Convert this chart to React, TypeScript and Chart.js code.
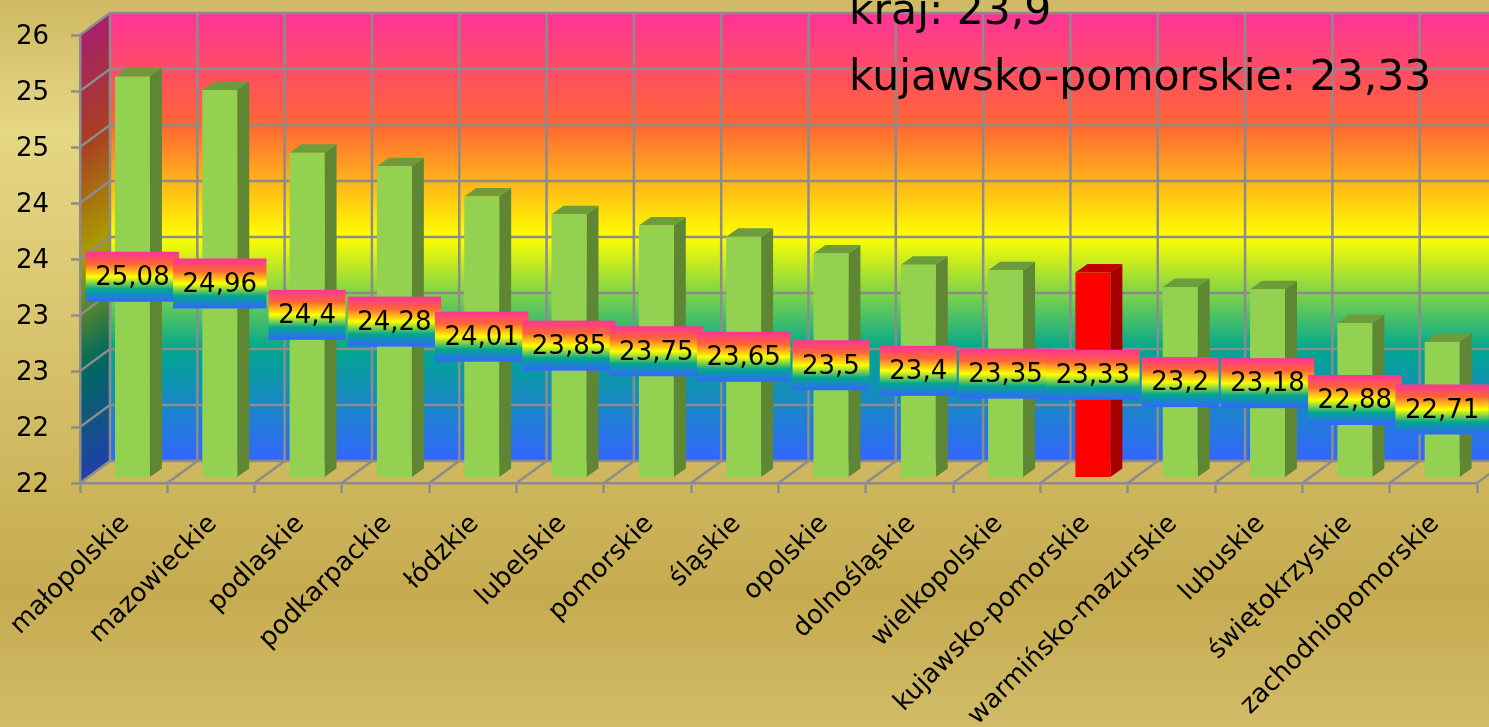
import React, { useEffect, useRef } from "react";
import { Chart, registerables } from "chart.js";

Chart.register(...registerables);

const categories = ["małopolskie", "mazowieckie", "podlaskie", "podkarpackie", "łódzkie", "lubelskie", "pomorskie", "śląskie", "opolskie", "dolnośląskie", "wielkopolskie", "kujawsko-pomorskie", "warmińsko-mazurskie", "lubuskie", "świętokrzyskie", "zachodniopomorskie"];
const values = [25.08, 24.96, 24.4, 24.28, 24.01, 23.85, 23.75, 23.65, 23.5, 23.4, 23.35, 23.33, 23.2, 23.18, 22.88, 22.71];
const yTickLabels = ["22", "22", "23", "23", "24", "24", "25", "25", "26"];
const noteLines = ["kraj: 23,9", "kujawsko-pomorskie: 23,33"];
const highlighted = "kujawsko-pomorskie";
const yMin = 21.5;
const yMax = 25.5;

const FONT = '"DejaVu Sans", sans-serif';
const GRID = "#8c8c8c";
const rainbow: [number, string][] = [[0, "#ff3399"], [0.25, "#ff6633"], [0.5, "#ffff00"], [0.75, "#01a78f"], [1, "#3366ff"]];
const rainbowDark: [number, string][] = [[0, "#a8206a"], [0.25, "#a83f22"], [0.5, "#a89e00"], [0.75, "#016a5c"], [1, "#2040a8"]];

const WALL_DX = 30, WALL_DY = -22;
const BAR_DX = 8.8, BAR_DY = -5.5;
const SIDE_DX = 12, SIDE_DY = -8.5;

function stops(g: CanvasGradient, list: [number, string][]) {
  list.forEach(([o, c]) => g.addColorStop(o, c));
  return g;
}

function quad(ctx: CanvasRenderingContext2D, p: number[], fill: string | CanvasGradient) {
  ctx.beginPath();
  ctx.moveTo(p[0], p[1]);
  ctx.lineTo(p[2], p[3]);
  ctx.lineTo(p[4], p[5]);
  ctx.lineTo(p[6], p[7]);
  ctx.closePath();
  ctx.fillStyle = fill;
  ctx.fill();
}

function noPadding(s: any) {
  s.paddingLeft = s.paddingRight = s.paddingTop = s.paddingBottom = 0;
}

const scene = {
  id: "scene",
  beforeDraw(chart: any) {
    const { ctx, width, height, chartArea: a, scales } = chart;
    const { x, y } = scales;
    ctx.save();
    const bg = ctx.createLinearGradient(0, 0, 0, height);
    stops(bg, [[0, "#cfb964"], [0.18, "#e6d785"], [0.82, "#c6ab50"], [1, "#d2bc68"]]);
    ctx.fillStyle = bg;
    ctx.fillRect(0, 0, width, height);

    // back wall
    const bx = a.left + WALL_DX, bt = a.top + WALL_DY, bb = a.bottom + WALL_DY;
    ctx.fillStyle = stops(ctx.createLinearGradient(0, bt, 0, bb), rainbow);
    ctx.fillRect(bx, bt, a.right + WALL_DX - bx, bb - bt);

    // side wall: colour bands follow the receding edges
    const h = a.bottom - a.top;
    const len = Math.hypot(WALL_DX, WALL_DY);
    const nx = -WALL_DY / len, ny = WALL_DX / len;
    const d = h * ny;
    const side = ctx.createLinearGradient(a.left, a.top, a.left + nx * d, a.top + ny * d);
    stops(side, rainbowDark);
    quad(ctx, [a.left, a.top, bx, bt, bx, bb, a.left, a.bottom], side);

    ctx.strokeStyle = GRID;
    ctx.lineWidth = 2.5;
    ctx.beginPath();
    // horizontal lines on both walls
    y.ticks.forEach((t: any) => {
      const py = y.getPixelForValue(t.value);
      ctx.moveTo(a.left, py);
      ctx.lineTo(bx, py + WALL_DY);
      ctx.lineTo(a.right + WALL_DX, py + WALL_DY);
    });
    // vertical lines on the back wall and diagonals on the floor
    for (let i = 0; i <= categories.length; i++) {
      const px = x.getPixelForValue(i - 0.5);
      ctx.moveTo(px, a.bottom);
      ctx.lineTo(px + WALL_DX, a.bottom + WALL_DY);
      ctx.lineTo(px + WALL_DX, a.top + WALL_DY);
    }
    ctx.stroke();
    ctx.restore();
  },
  beforeDatasetsDraw(chart: any) {
    const { ctx } = chart;
    const meta = chart.getDatasetMeta(0);
    const ds = chart.data.datasets[0];
    ctx.save();
    ctx.translate(BAR_DX, BAR_DY);
    meta.data.forEach((bar: any, i: number) => {
      const r = bar.x + bar.width / 2, l = bar.x - bar.width / 2;
      quad(ctx, [r, bar.y, r + SIDE_DX, bar.y + SIDE_DY, r + SIDE_DX, bar.base + SIDE_DY, r, bar.base], ds.sideColors[i]);
      quad(ctx, [l, bar.y, l + SIDE_DX, bar.y + SIDE_DY, r + SIDE_DX, bar.y + SIDE_DY, r, bar.y], ds.topColors[i]);
    });
    // moved back in afterDatasetsDraw: the front faces share this offset
  },
  afterDatasetsDraw(chart: any) {
    const { ctx } = chart;
    ctx.restore();
    const meta = chart.getDatasetMeta(0);
    const ds = chart.data.datasets[0];
    ctx.save();
    ctx.font = `26px ${FONT}`;
    ctx.textBaseline = "middle";
    ctx.textAlign = "center";
    meta.data.forEach((bar: any, i: number) => {
      const text = String(ds.data[i]).replace(".", ",");
      const w = ctx.measureText(text).width + 19;
      const cx = bar.x + BAR_DX;
      const cy = (bar.y + bar.base) / 2 + BAR_DY;
      ctx.fillStyle = stops(ctx.createLinearGradient(0, cy - 25, 0, cy + 25), rainbow);
      ctx.fillRect(cx - w / 2, cy - 25, w, 50);
      ctx.fillStyle = "#000";
      ctx.fillText(text, cx, cy + 1.5);
    });
    ctx.font = `42.5px ${FONT}`;
    ctx.textAlign = "left";
    ctx.textBaseline = "alphabetic";
    ctx.fillStyle = "#000";
    noteLines.forEach((t, i) => ctx.fillText(t, 849, 24 + i * 66));
    ctx.restore();
  },
};

export default function App() {
  const ref = useRef<HTMLCanvasElement>(null);
  useEffect(() => {
    const isHi = (c: string) => c === highlighted;
    const chart = new Chart(ref.current!, {
      type: "bar",
      data: {
        labels: categories,
        datasets: [{
          data: values,
          base: yMin,
          backgroundColor: categories.map((c) => (isHi(c) ? "#ff0000" : "#93d150")),
          sideColors: categories.map((c) => (isHi(c) ? "#a50000" : "#5f8733")),
          topColors: categories.map((c) => (isHi(c) ? "#c00000" : "#6c9c3c")),
          barPercentage: 0.4,
          categoryPercentage: 1,
          clip: false,
        } as any],
      },
      options: {
        animation: false,
        responsive: false,
        layout: { autoPadding: false, padding: { top: 35, right: 12, left: 0, bottom: 0 } },
        plugins: { legend: { display: false }, tooltip: { enabled: false } },
        scales: {
          x: {
            afterFit: (s: any) => { s.height = 244; noPadding(s); },
            grid: { drawOnChartArea: false, tickLength: 10, tickColor: GRID, tickWidth: 2.5 },
            border: { color: GRID, width: 2.5 },
            ticks: { autoSkip: false, minRotation: 45, maxRotation: 45, color: "#000", font: { family: FONT, size: 26 }, padding: 16, labelOffset: 2 },
          },
          y: {
            min: yMin,
            max: yMax,
            afterFit: (s: any) => { s.width = 80; noPadding(s); },
            grid: { drawOnChartArea: false, tickLength: 9, tickColor: GRID, tickWidth: 2.5 },
            border: { color: GRID, width: 2.5 },
            ticks: { stepSize: 0.5, color: "#000", font: { family: FONT, size: 26 }, padding: 22, labelOffset: 2, callback: (_v: any, i: number) => yTickLabels[i] },
          },
        },
      },
      plugins: [scene],
    } as any);
    return () => chart.destroy();
  }, []);
  return (
    <div style={{ position: "fixed", left: 0, top: 0, width: 1489, height: 727, overflow: "hidden" }}>
      <canvas ref={ref} width={1489} height={727} style={{ display: "block" }} />
    </div>
  );
}
